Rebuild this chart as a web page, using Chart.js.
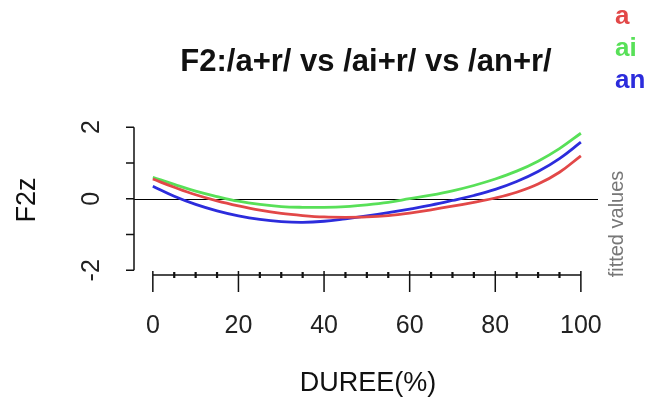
<!DOCTYPE html>
<html>
<head>
<meta charset="utf-8">
<style>
  html, body { margin: 0; padding: 0; background: #fff; }
  #wrap { width: 648px; height: 406px; }
</style>
<script src="https://cdn.jsdelivr.net/npm/chart.js@4/dist/chart.umd.min.js"></script>
</head>
<body>
<div id="wrap"><canvas id="f2Chart" width="648" height="406"></canvas></div>
<script>
// fitted values, every 5% of duration
const duree = [0, 5, 10, 15, 20, 25, 30, 35, 40, 45, 50, 55, 60, 65, 70, 75, 80, 85, 90, 95, 100];
const fitA  = [0.55, 0.32, 0.11, -0.06, -0.20, -0.32, -0.41, -0.47, -0.51, -0.52, -0.51, -0.47, -0.40, -0.31, -0.21, -0.10, 0.02, 0.18, 0.41, 0.74, 1.20];
const fitAi = [0.60, 0.40, 0.21, 0.06, -0.07, -0.16, -0.22, -0.24, -0.24, -0.22, -0.17, -0.10, 0.00, 0.10, 0.22, 0.37, 0.55, 0.77, 1.05, 1.40, 1.83];
const fitAn = [0.35, 0.07, -0.16, -0.34, -0.48, -0.58, -0.64, -0.66, -0.63, -0.56, -0.48, -0.39, -0.29, -0.18, -0.05, 0.09, 0.26, 0.48, 0.76, 1.12, 1.58];

const xMajor = [0, 20, 40, 60, 80, 100];
const xMinor = [5, 10, 15, 25, 30, 35, 45, 50, 55, 65, 70, 75, 85, 90, 95];
const yTicks = [-2, -1, 0, 1, 2];
const yTickLabels = ['-2', '', '0', '', '2'];
const legendNames = ['a', 'ai', 'an'];

const colA = '#e24848', colAi = '#58e058', colAn = '#2c2cdc';

function pts(ys) {
    return duree.map((x, i) => ({ x: x, y: ys[i] }));
}

// R-style axes, zero line and text
const rAxes = {
    id: 'rAxes',
    beforeDatasetsDraw(chart) {
        const c = chart.ctx, ys = chart.scales.y, a = chart.chartArea;
        c.save();
        c.strokeStyle = '#000';
        c.lineWidth = 1.2;
        const y0 = Math.round(ys.getPixelForValue(0)) + 0.5;
        c.beginPath();
        c.moveTo(a.left, y0);
        c.lineTo(a.right, y0);
        c.stroke();
        c.restore();
    },
    afterDraw(chart) {
        const c = chart.ctx, xs = chart.scales.x, ys = chart.scales.y, a = chart.chartArea;
        c.save();
        c.strokeStyle = '#111';
        c.fillStyle = '#222';

        // y axis
        const yx = a.left;
        c.lineWidth = 1.5;
        c.beginPath();
        c.moveTo(yx, ys.getPixelForValue(2));
        c.lineTo(yx, ys.getPixelForValue(-2));
        yTicks.forEach(v => {
            const p = ys.getPixelForValue(v);
            c.moveTo(yx, p);
            c.lineTo(yx - 8, p);
        });
        c.stroke();
        c.font = '25px "Liberation Sans", Arial, sans-serif';
        c.textAlign = 'center';
        c.textBaseline = 'middle';
        yTicks.forEach((v, i) => {
            if (!yTickLabels[i]) return;
            c.save();
            c.translate(92, ys.getPixelForValue(v));
            c.rotate(-Math.PI / 2);
            c.fillText(yTickLabels[i], 0, 0);
            c.restore();
        });

        // x axis
        const ay = 275;
        c.lineWidth = 1.5;
        c.beginPath();
        c.moveTo(xs.getPixelForValue(0), ay);
        c.lineTo(xs.getPixelForValue(100), ay);
        xMajor.forEach(v => {
            const p = xs.getPixelForValue(v);
            c.moveTo(p, ay - 4);
            c.lineTo(p, ay + 17);
        });
        c.stroke();
        c.lineWidth = 2.2;
        c.beginPath();
        xMinor.forEach(v => {
            const p = xs.getPixelForValue(v);
            c.moveTo(p, ay - 3);
            c.lineTo(p, ay + 3);
        });
        c.stroke();
        c.textBaseline = 'middle';
        xMajor.forEach(v => {
            c.fillText(String(v), xs.getPixelForValue(v), 326);
        });

        // titles
        c.fillStyle = '#111';
        c.font = '27px "Liberation Sans", Arial, sans-serif';
        c.fillText('DUREE(%)', 368, 384);
        c.save();
        c.translate(28, 200);
        c.rotate(-Math.PI / 2);
        c.fillText('F2z', 0, 0);
        c.restore();

        c.font = 'bold 31px "Liberation Sans", Arial, sans-serif';
        c.fillText('F2:/a+r/ vs /ai+r/ vs /an+r/', 366, 62);

        c.fillStyle = '#777';
        c.font = '20px "Liberation Sans", Arial, sans-serif';
        c.save();
        c.translate(617, 224);
        c.rotate(-Math.PI / 2);
        c.fillText('fitted values', 0, 0);
        c.restore();

        c.font = 'bold 26px "Liberation Sans", Arial, sans-serif';
        c.textAlign = 'left';
        c.textBaseline = 'alphabetic';
        const cols = [colA, colAi, colAn];
        const base = [24, 56, 88];
        legendNames.forEach((n, i) => {
            c.fillStyle = cols[i];
            c.fillText(n, 615, base[i]);
        });
        c.restore();
    }
};

const ctx = document.getElementById('f2Chart').getContext('2d');
const f2Chart = new Chart(ctx, {
    type: 'line',
    data: {
        datasets: [
            { label: 'a', data: pts(fitA), borderColor: colA },
            { label: 'an', data: pts(fitAn), borderColor: colAn },
            { label: 'ai', data: pts(fitAi), borderColor: colAi }
        ]
    },
    options: {
        responsive: false,
        animation: false,
        layout: { padding: { left: 134, right: 50, top: 120, bottom: 130 } },
        elements: {
            line: { borderWidth: 2.8, tension: 0.4 },
            point: { radius: 0 }
        },
        scales: {
            x: { type: 'linear', min: -4.4, max: 104, display: false },
            y: { type: 'linear', min: -2.16, max: 2.2, display: false }
        },
        plugins: {
            legend: { display: false },
            tooltip: { enabled: false }
        }
    },
    plugins: [rAxes]
});
</script>
</body>
</html>
